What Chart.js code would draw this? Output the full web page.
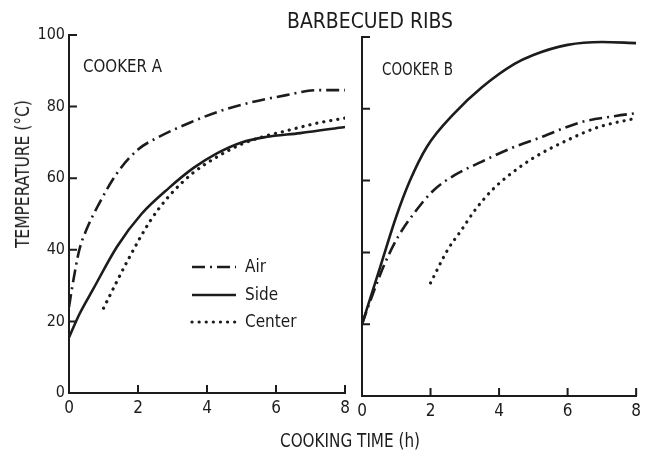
<!DOCTYPE html>
<html><head><meta charset="utf-8">
<script src="https://cdn.jsdelivr.net/npm/chart.js@4/dist/chart.umd.min.js"></script>
<style>
html,body{margin:0;padding:0;background:#fff;}
#wrap{position:relative;width:646px;height:453px;overflow:hidden;background:#fff;}
canvas{position:absolute;}
.lbl{position:absolute;font-family:"Liberation Sans Narrow","DejaVu Sans Condensed","Arial Narrow",sans-serif;color:#1c1c1c;white-space:nowrap;line-height:1;transform-origin:0 0;}
</style></head><body>
<div id="wrap">
<canvas id="cA" width="355" height="453" style="left:0;top:0"></canvas>
<canvas id="cB" width="296" height="453" style="left:350px;top:0"></canvas>
<div class="lbl" data-w="166" style="left:287px;top:11px;font-size:21px">BARBECUED RIBS</div>
<div class="lbl" data-w="79" style="left:83px;top:58px;font-size:17px">COOKER A</div>
<div class="lbl" data-w="71" style="left:382px;top:61px;font-size:17px">COOKER B</div>
<div class="lbl" data-w="140" style="left:280px;top:430px;font-size:20px">COOKING TIME (h)</div>
<div class="lbl" id="ytitle" data-w="148" style="left:13px;top:248px;font-size:19px">TEMPERATURE (°C)</div>
</div>
<script>
const INK = '#1c1c1c';
const FONT = '"Liberation Sans Narrow","DejaVu Sans Condensed","Arial Narrow",sans-serif';

// tick values
const xTickValues = [0, 2, 4, 6, 8];
const yTickValues = [0, 20, 40, 60, 80, 100];

// Cooker A (hours, °C)
const aAirHours  = [0, 0.1, 0.3, 0.5, 0.85, 1.4, 2.0, 2.6, 3.5, 4.3, 5.2, 6.3, 7.2, 8];
const aAirTemp   = [24, 30, 40, 45.5, 52.5, 61.5, 68, 71.5, 75.5, 78.5, 81, 83.2, 84.6, 84.6];
const aSideHours = [0, 0.3, 0.7, 1.4, 2.1, 2.9, 3.6, 4.3, 5.0, 5.7, 6.7, 8];
const aSideTemp  = [15.5, 22, 29, 41, 50, 57.3, 62.8, 67, 70, 71.5, 72.6, 74.3];
const aCenterHours = [1.0, 1.7, 2.35, 2.9, 3.6, 4.3, 5.0, 5.7, 6.2, 7.2, 8];
const aCenterTemp  = [23.7, 37, 48, 55, 61.5, 66, 69.5, 71.8, 73, 75.4, 76.8];

// Cooker B (hours, °C)
const bAirHours  = [0, 0.3, 0.67, 1.05, 1.55, 2.1, 2.7, 3.5, 4.35, 5.2, 6.4, 7.4, 8];
const bAirTemp   = [20, 28, 37, 44.3, 51.3, 57.4, 61.5, 65.3, 69, 72, 76.3, 78, 78.8];
const bSideHours = [0, 0.5, 1.0, 1.4, 1.9, 2.7, 3.5, 4.45, 5.0, 6.0, 7.0, 8];
const bSideTemp  = [20, 35, 50, 60, 69.5, 78.8, 86, 92.5, 95, 97.8, 98.6, 98.3];
const bCenterHours = [2.0, 2.5, 2.9, 3.3, 3.8, 4.25, 5.0, 6.0, 6.9, 8];
const bCenterTemp  = [31.5, 40.7, 46.2, 51.8, 57.4, 61.2, 66.3, 71.3, 74.9, 77.4];

const STYLE = {
  Air:    {borderDash:[13,5,2,5], borderWidth:2.6, borderCapStyle:'butt'},
  Side:   {borderDash:[], borderWidth:2.6, borderCapStyle:'butt'},
  Center: {borderDash:[0.1,7], borderWidth:3.2, borderCapStyle:'round'}
};

function pts(xs, ys){ return xs.map((x,i)=>({x:x, y:ys[i]})); }
function ds(name, xs, ys){
  return Object.assign({label:name, data:pts(xs,ys), borderColor:INK, backgroundColor:INK,
    pointRadius:0, fill:false, tension:0.4, cubicInterpolationMode:'monotone'}, STYLE[name]);
}

const innerTicks = {
  id:'innerTicks',
  afterDatasetsDraw(chart){
    const {ctx, chartArea:a, scales:{x,y}} = chart;
    ctx.save(); ctx.strokeStyle = INK; ctx.lineWidth = 2; ctx.beginPath();
    xTickValues.forEach(v=>{ if(v===0) return; const px=x.getPixelForValue(v); ctx.moveTo(px,a.bottom); ctx.lineTo(px,a.bottom-8); });
    yTickValues.forEach(v=>{ if(v===0) return; const py=y.getPixelForValue(v); ctx.moveTo(a.left,py); ctx.lineTo(a.left+8,py); });
    ctx.stroke(); ctx.restore();
  }
};

const legendPlugin = {
  id:'inLegend',
  afterDatasetsDraw(chart){
    const ctx = chart.ctx;
    const rows = [267, 295, 322];
    ctx.save();
    chart.data.datasets.forEach((d,i)=>{
      const yy = rows[i];
      ctx.strokeStyle = INK; ctx.lineWidth = d.borderWidth; ctx.lineCap = d.borderCapStyle;
      ctx.setLineDash(d.borderDash);
      ctx.beginPath(); ctx.moveTo(192, yy); ctx.lineTo(236, yy); ctx.stroke();
      ctx.setLineDash([]);
      ctx.fillStyle = INK; ctx.font = '17px ' + FONT; ctx.textBaseline = 'middle';
      ctx.fillText(d.label, 245, yy+1);
    });
    ctx.restore();
  }
};

function makePanel(id, datasets, cfg){
  return new Chart(document.getElementById(id), {
    type:'line',
    data:{datasets:datasets},
    options:{
      responsive:false, animation:false, events:[],
      layout:{padding:cfg.padding},
      plugins:{legend:{display:false}, tooltip:{enabled:false}, title:{display:false}},
      scales:{
        x:{type:'linear', min:0, max:8,
           afterBuildTicks:s=>{ s.ticks = xTickValues.map(v=>({value:v})); },
           afterFit:s=>{ s.height = 30; },
           ticks:{color:INK, font:{family:FONT, size:17}, padding:5, maxRotation:0},
           grid:{display:false, drawTicks:false},
           border:{display:true, color:INK, width:2}},
        y:{type:'linear', min:0, max:100,
           afterBuildTicks:s=>{ s.ticks = yTickValues.map(v=>({value:v})); },
           afterFit:s=>{ s.width = cfg.yWidth; },
           ticks:{display:cfg.yLabels, color:INK, font:{family:FONT, size:16}, padding:4},
           grid:{display:false, drawTicks:false},
           border:{display:true, color:INK, width:2}}
      }
    },
    plugins: cfg.legend ? [innerTicks, legendPlugin] : [innerTicks]
  });
}

makePanel('cA', [ds('Air',aAirHours,aAirTemp), ds('Side',aSideHours,aSideTemp), ds('Center',aCenterHours,aCenterTemp)],
  {padding:{left:0, right:10, top:35, bottom:30}, yWidth:69, yLabels:true, legend:true});
makePanel('cB', [ds('Air',bAirHours,bAirTemp), ds('Side',bSideHours,bSideTemp), ds('Center',bCenterHours,bCenterTemp)],
  {padding:{left:0, right:9, top:37, bottom:27}, yWidth:12, yLabels:false, legend:false});

// fit label widths to the reference
document.querySelectorAll('.lbl').forEach(el=>{
  const w = el.getBoundingClientRect().width;
  const target = +el.dataset.w;
  const k = target / w;
  if (el.id === 'ytitle') el.style.transform = 'rotate(-90deg) scaleX(' + k + ')';
  else el.style.transform = 'scaleX(' + k + ')';
});
</script>
</body></html>
